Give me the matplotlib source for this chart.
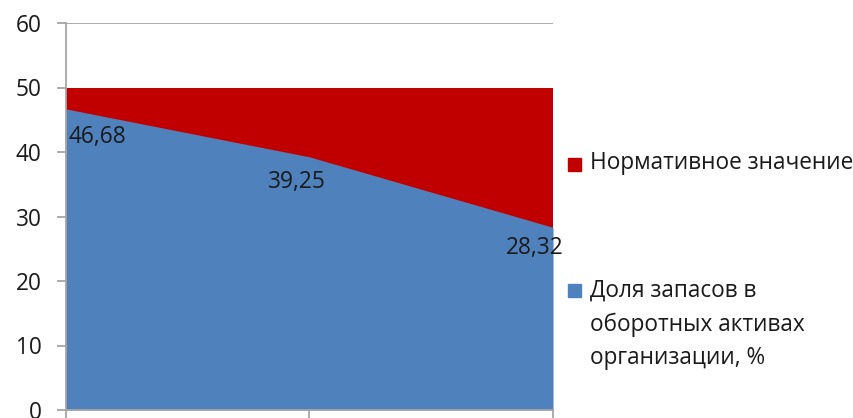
import matplotlib
matplotlib.use("Agg")
import matplotlib.pyplot as plt
from matplotlib.patches import Rectangle

categories = ["1", "2", "3"]
share_values = [46.68, 39.25, 28.32]
norm_values = [50, 50, 50]
share_labels = ["46,68", "39,25", "28,32"]
series_names = ["Нормативное значение", "Доля запасов в\nоборотных активах\nорганизации, %"]
yticks = [0, 10, 20, 30, 40, 50, 60]

plt.rcParams['font.family'] = ['Open Sans', 'DejaVu Sans']
FS = 16.3

W, H = 854, 418
fig = plt.figure(figsize=(W/100, H/100), dpi=100)
ax = fig.add_axes([66/W, (H-410)/H, (553-66)/W, (410-23)/H])

x = list(range(len(categories)))
blue = "#4F81BD"
red = "#C00000"
ax.fill_between(x, 0, norm_values, color=red, linewidth=0, zorder=2)
ax.fill_between(x, 0, share_values, color=blue, linewidth=0, zorder=3)

ax.set_xlim(0, len(categories)-1)
ax.set_ylim(0, 60)
ax.set_yticks(yticks)
ax.set_yticklabels([str(t) for t in yticks])
ax.set_xticks(x)
ax.set_xticklabels([])
ax.axhline(60, color="#A6A6A6", lw=1.3, zorder=1)

for s in ["top", "right"]:
    ax.spines[s].set_visible(False)
for s in ["left", "bottom"]:
    ax.spines[s].set_color("#A6A6A6")
    ax.spines[s].set_linewidth(1.3)
    ax.spines[s].set_zorder(5)
ax.tick_params(axis="both", direction="out", length=6.5, width=1.3, color="#A6A6A6")
ax.tick_params(axis="y", labelsize=FS, labelcolor="#1a1a1a", pad=11)

offsets = [(31, -28), (-13, -25), (-18, -21)]
for xi, v, lab, off in zip(x, share_values, share_labels, offsets):
    ax.annotate(lab, (xi, v), xytext=off, textcoords="offset pixels",
                ha="center", va="center", fontsize=FS, color="#1a1a1a",
                annotation_clip=False, zorder=6)

# legend
fig.patches.append(Rectangle((568/W, (H-171)/H), 13/W, 13/H, transform=fig.transFigure,
                             color=red, figure=fig))
fig.text(590/W, (H-163)/H, series_names[0], fontsize=FS, color="#1a1a1a",
         ha="left", va="center")
fig.patches.append(Rectangle((568/W, (H-297)/H), 13/W, 13/H, transform=fig.transFigure,
                             color=blue, figure=fig))
for i, line in enumerate(series_names[1].split("\n")):
    fig.text(590/W, (H-(291+33.5*i))/H, line, fontsize=FS, color="#1a1a1a",
             ha="left", va="center")

fig.savefig("out.png", dpi=100)
